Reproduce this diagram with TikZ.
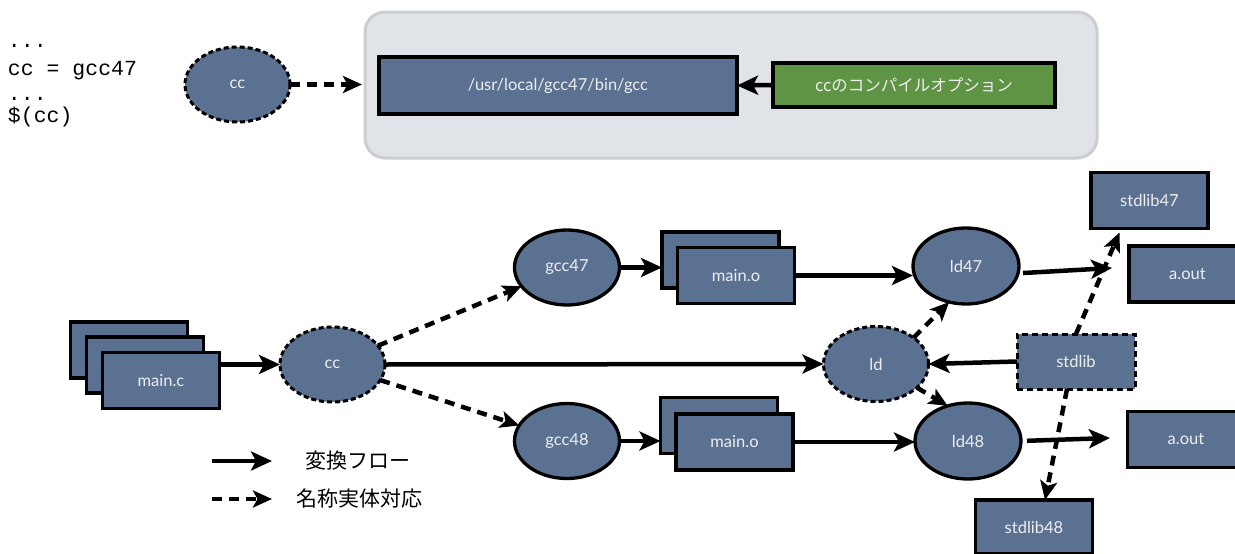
\documentclass[tikz,border=0pt]{standalone}
\usepackage{fontspec}
\setmainfont{Lato}
\newfontfamily\jpfont{Noto Sans CJK JP}
\newfontfamily\codefont{Liberation Mono}
\usetikzlibrary{shapes.geometric,arrows.meta,calc}

\definecolor{slate}{RGB}{91,113,145}
\definecolor{optgreen}{RGB}{95,148,68}
\definecolor{panelfill}{RGB}{224,227,232}
\definecolor{panelline}{RGB}{203,205,208}
\definecolor{labeltext}{RGB}{238,238,238}

\begin{document}
\begin{tikzpicture}[x=1pt,y=-1pt,
  every node/.style={inner sep=0pt, outer sep=0pt},
  lbl/.style={font=\fontsize{16.5}{19}\selectfont, text=labeltext},
  box/.style={rectangle, draw=black, line width=3.3pt, fill=slate,
    minimum width=117pt, minimum height=56pt, lbl},
  namebox/.style={box, dash pattern=on 6pt off 4pt, line width=3pt},
  oval/.style={ellipse, draw=black, line width=3.3pt, fill=slate,
    minimum width=105pt, minimum height=75pt, lbl},
  nameoval/.style={oval, dash pattern=on 5pt off 3pt, line width=3pt},
  code/.style={font=\codefont\fontsize{21.5}{24}\selectfont, anchor=base west},
  legendtext/.style={font=\jpfont\fontsize{21}{24}\selectfont, anchor=west},
  flow/.style={line width=4.5pt, -{Stealth[length=21pt,width=19pt,inset=5pt]}},
  alias/.style={line width=4.5pt, dash pattern=on 10pt off 7pt,
    -{Stealth[length=19pt,width=17pt,inset=4.5pt]}},
]
\useasboundingbox (0,0) rectangle (1235,554);

% makefile excerpt
\node[code] (c1) at (8,47) {...};
\node[code] (c2) at (8,75) {cc = gcc47};
\node[code] (c3) at (8,100) {...};
\node[code] (c4) at (8,122) {\$(cc)};

% variable and what it stands for
\node[nameoval] (cctop) at (237.5,84.5) {cc};
\node[rectangle, rounded corners=20pt, draw=panelline, fill=panelfill,
  line width=3pt, minimum width=732pt, minimum height=146pt] (panel) at (731,85) {};
\node[box, minimum width=358pt, minimum height=57pt] (usrgcc) at (558,85.5)
  {/usr/local/gcc47/bin/gcc};
\node[box, fill=optgreen, minimum width=282pt, minimum height=44pt,
  font=\jpfont\fontsize{16.5}{19}\selectfont] (opt) at (914,85) {ccのコンパイルオプション};

\draw[alias, shorten >=3pt] (cctop.east) -- (cctop.east -| panel.west);
\draw[flow] (opt.west) -- (usrgcc.east);

% sources
\node[box] (mainc1) at (129,350) {};
\node[box] (mainc2) at (145,365) {};
\node[box] (mainc) at (161,380.5) {main.c};
\node[nameoval] (ccb) at (332.5,364.5) {cc};

% gcc47 branch
\node[oval] (gcc47) at (567,267.5) {gcc47};
\node[box] (mo47b) at (720.5,260) {};
\node[box] (mo47) at (736,275.5) {main.o};
\node[oval, minimum width=106pt, minimum height=76pt] (ld47) at (966,266) {ld47};
\node[box] (stdlib47) at (1149.5,200.5) {stdlib47};
\node[box] (aout47) at (1187.5,274) {a.out};

% gcc48 branch
\node[oval] (gcc48) at (567,441) {gcc48};
\node[box] (mo48b) at (719,425.5) {};
\node[box] (mo48) at (734.5,442) {main.o};
\node[oval, minimum width=106pt, minimum height=76pt] (ld48) at (968,441) {ld48};
\node[box] (aout48) at (1186,439.5) {a.out};
\node[box, minimum height=54pt] (stdlib48) at (1034,527) {stdlib48};

% generic linker and library
\node[nameoval] (ld) at (876,364) {ld};
\node[namebox, minimum width=118pt, minimum height=55pt] (stdlib) at (1076,361.5) {stdlib};

\coordinate (o47) at (1112,268);
\coordinate (o48) at (1110,438);

% conversion flow
\draw[flow] (mainc.east |- ccb) -- (ccb.west);
\draw[flow] (ccb.east) -- (ld.west);
\draw[flow] (gcc47.east) -- (gcc47.east -| mo47b.west);
\draw[flow] (mo47.east) -- (mo47.east -| ld47.west);
\draw[flow, shorten <=5pt] (ld47.-8) -- (o47);
\draw[flow] (gcc48.east) -- (gcc48.east -| mo48b.west);
\draw[flow] (mo48.east) -- (mo48.east -| ld48.west);
\draw[flow, shorten <=6pt] (ld48.east) -- (o48);
\draw[flow] (stdlib.west) -- (ld.east);

% name to entity
\draw[alias] (ccb) -- (gcc47);
\draw[alias] (ccb) -- (gcc48);
\draw[alias] (ld.35) -- (ld47.245);
\draw[alias] (ld.-30) -- (ld48.120);
\draw[alias] (stdlib.north) -- ($(stdlib47.south)+(-30,4)$);
\draw[alias] ($(stdlib.south)+(-9,0)$) -- ($(stdlib48.north)+(11,0)$);

% legend
\coordinate (la1) at (212,461);
\coordinate (lb1) at (272,461);
\draw[flow] (la1) -- (lb1);
\node[legendtext] (lt1) at (305,461) {変換フロー};
\coordinate (la2) at (212,499);
\coordinate (lb2) at (272,499);
\draw[alias] (la2) -- (lb2);
\node[legendtext] (lt2) at (296,499) {名称実体対応};
\end{tikzpicture}
\end{document}
